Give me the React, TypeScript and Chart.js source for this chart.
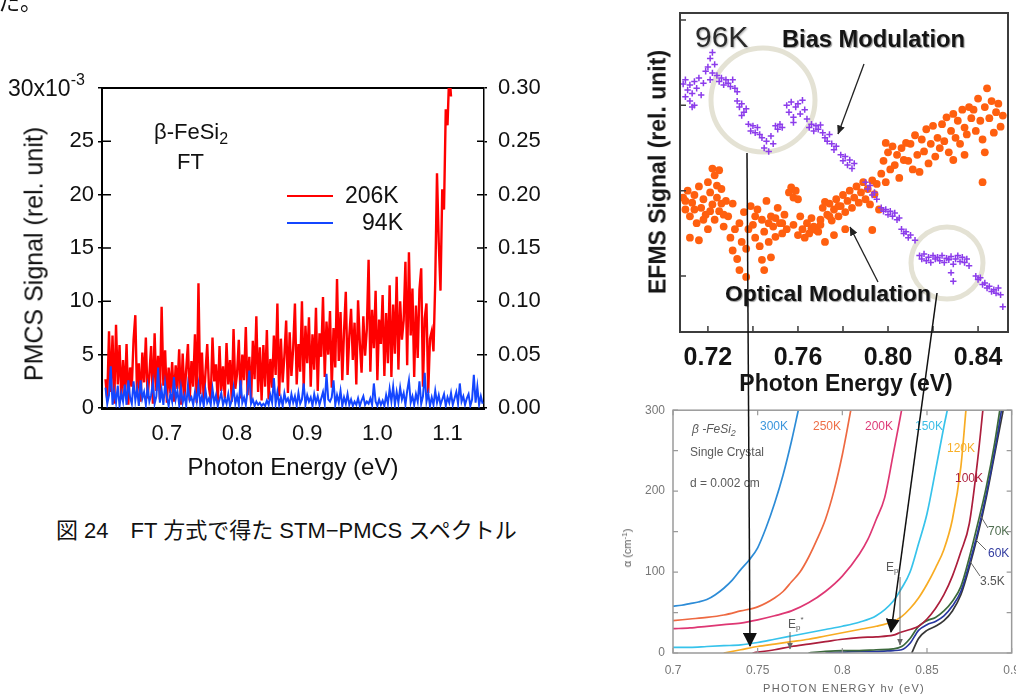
import React, { useEffect, useRef } from 'react';
import { Chart, registerables } from 'chart.js';

Chart.register(...registerables);

const SANS = '"Liberation Sans", Arial, sans-serif';
const CJK = '"Liberation Sans", "Noto Sans CJK JP", sans-serif';
Chart.defaults.font.family = SANS;

// ---------------- Fig. 24 : FT STM-PMCS spectra ----------------
const PMCS_X_TICKS = [0.7, 0.8, 0.9, 1.0, 1.1];
const PMCS_Y_TICKS = [0, 5, 10, 15, 20, 25, 30]; // x10^-3
const PMCS_Y1_TICKS = [0, 0.05, 0.1, 0.15, 0.2, 0.25, 0.3];
const PMCS_E_START = 0.6125; // eV, first sample of the spectra
const PMCS_E_STEP = 0.0025; // eV, sampling step

const pmcs206K = [
  2.7, 0.8, 7.2, 1.5, 6.8, 0.4, 7.8, 2.2, 5.9, 0.9,
  4.5, 1.2, 6.0, 0.3, 3.8, 2.0, 6.4, 8.7, 1.1, 4.2,
  0.6, 5.2, 2.4, 6.6, 0.9, 3.1, 5.8, 0.4, 7.0, 1.6,
  4.9, 0.8, 9.5, 2.1, 5.4, 0.5, 3.8, 1.4, 4.3, 0.6,
  4.0, 1.8, 5.5, 0.3, 5.1, 1.0, 3.6, 6.0, 0.7, 4.4,
  2.0, 6.9, 0.5, 11.7, 1.3, 5.2, 0.6, 3.3, 6.0, 1.9,
  0.8, 6.6, 2.5, 4.1, 0.4, 5.8, 1.6, 3.9, 0.9, 6.1,
  2.2, 4.5, 0.6, 7.4, 1.8, 3.2, 6.4, 0.9, 5.0, 2.6,
  7.6, 1.2, 4.8, 0.5, 6.3, 2.7, 8.6, 1.5, 5.7, 0.7,
  5.9, 2.0, 7.3, 0.8, 4.6, 1.9, 6.8, 3.1, 9.8, 1.1,
  6.5, 2.4, 4.9, 8.2, 1.4, 7.1, 3.0, 5.6, 9.8, 2.2,
  6.0, 3.4, 10.0, 1.8, 7.7, 4.2, 8.5, 2.0, 6.9, 3.6,
  9.4, 1.6, 7.0, 4.8, 10.4, 2.9, 8.1, 5.0, 9.1, 1.9,
  7.5, 3.8, 12.1, 4.4, 9.0, 2.6, 7.2, 10.9, 3.1, 6.7,
  9.3, 4.5, 8.0, 2.2, 10.1, 6.1, 3.3, 8.6, 4.9, 7.4,
  13.9, 3.4, 9.2, 5.6, 11.0, 2.6, 8.3, 6.0, 10.6, 3.0,
  8.9, 4.2, 11.5, 2.9, 9.7, 5.1, 12.3, 3.6, 10.0, 6.4,
  8.2, 13.7, 4.0, 14.6, 6.8, 11.2, 2.9, 9.6, 4.7, 11.1,
  13.1, 2.0, 8.4, 9.8, 1.4, 6.5, 7.2, 5.3, 11.8, 22.0,
  15.5, 11.0, 20.5, 18.6, 28.0, 26.5, 31.5, 29.2,
];

const pmcs94K = [
  1.9, 0.4, 1.2, 3.9, 0.3, 1.6, 0.5, 2.1, 0.2, 1.4,
  0.6, 2.2, 0.3, 2.6, 1.0, 0.4, 2.5, 0.7, 1.8, 0.2,
  2.6, 0.9, 1.5, 0.3, 2.0, 0.6, 1.2, 2.4, 0.4, 1.1,
  3.8, 0.5, 1.7, 0.3, 2.3, 1.0, 0.2, 1.4, 0.6, 2.9,
  0.8, 1.6, 0.3, 1.9, 0.5, 1.2, 0.2, 2.1, 0.7, 1.0,
  0.3, 1.5, 0.6, 2.1, 0.4, 1.1, 0.2, 1.7, 0.5, 0.9,
  0.3, 1.8, 0.5, 1.2, 0.2, 0.8, 1.4, 0.3, 0.9, 0.4,
  1.3, 0.2, 0.7, 1.9, 0.4, 1.1, 0.3, 2.6, 0.5, 1.0,
  0.3, 1.6, 3.5, 0.4, 0.8, 0.2, 0.6, 0.3, 0.5, 0.2,
  0.4, 0.2, 0.7, 0.3, 1.2, 0.5, 2.8, 0.4, 1.5, 0.3,
  1.0, 0.2, 1.4, 0.6, 0.9, 0.3, 1.3, 0.5, 1.1, 0.2,
  1.4, 0.4, 0.8, 2.3, 0.3, 1.2, 0.6, 1.0, 0.2, 1.3,
  0.5, 1.1, 0.3, 0.9, 1.5, 0.4, 3.2, 0.8, 0.6, 1.0,
  2.6, 0.3, 1.2, 0.5, 1.6, 0.2, 1.0, 0.4, 1.3, 0.3,
  0.8, 0.2, 0.6, 0.3, 0.9, 0.2, 0.7, 1.1, 0.3, 0.6,
  0.4, 0.9, 0.3, 2.3, 0.6, 0.2, 0.8, 0.3, 0.7, 0.2,
  1.2, 0.4, 1.8, 0.6, 2.0, 0.3, 1.5, 0.5, 1.9, 0.8,
  1.4, 0.3, 1.6, 2.6, 0.5, 1.1, 0.3, 1.3, 0.6, 2.5,
  0.4, 1.1, 3.3, 0.6, 1.4, 0.2, 1.0, 0.3, 1.6, 0.5,
  1.2, 0.3, 0.8, 1.3, 0.2, 1.0, 0.5, 1.4, 0.3, 0.9,
  1.5, 0.4, 2.3, 0.6, 1.1, 0.3, 0.9, 1.3, 0.2, 0.8,
  3.1, 0.5, 2.0, 0.3, 1.1, 0.4,
];

// ---------------- EFMS (96K) ----------------
const EFMS_X_TICKS = [0.72, 0.74, 0.76, 0.78, 0.8, 0.82, 0.84];
const EFMS_X_LABELS = [0.72, 0.76, 0.8, 0.84];
const EFMS_Y_TICKS = [0, 1, 2, 3];

const efmsOptical: [number, number][] = [
  [0.709, 0.92], [0.71, 0.78], [0.711, 1.0], [0.712, 0.7], [0.713, 0.86], [0.714, 0.95], [0.715, 0.62],
  [0.716, 1.05], [0.717, 0.8], [0.718, 0.9], [0.719, 0.72], [0.72, 1.1], [0.72, 0.55], [0.721, 0.98],
  [0.722, 0.84], [0.723, 1.18], [0.723, 0.66], [0.724, 0.92], [0.725, 0.76], [0.726, 1.02], [0.727, 0.58],
  [0.728, 0.88], [0.712, 0.45], [0.716, 0.42], [0.726, 0.85], [0.722, 1.26], [0.725, 1.24],
  [0.71, 0.88], [0.714, 0.78], [0.718, 0.66], [0.721, 0.76], [0.724, 1.06], [0.727, 0.72],
  [0.729, 0.7], [0.73, 0.45], [0.731, 0.3], [0.731, 0.85], [0.732, 0.55], [0.733, 0.2], [0.734, 0.62],
  [0.734, 0.07], [0.735, 0.4], [0.736, 0.75], [0.737, -0.01], [0.737, 0.32], [0.738, 0.55],
  [0.739, 0.82], [0.74, 0.6], [0.741, 0.45], [0.742, 0.78], [0.743, 0.35], [0.744, 0.66], [0.745, 0.52],
  [0.746, 0.88], [0.747, 0.4], [0.748, 0.7], [0.749, 0.58], [0.75, 0.46], [0.751, 0.8], [0.752, 0.62],
  [0.753, 0.5], [0.754, 0.72], [0.755, 0.55], [0.744, 0.19], [0.745, 0.07], [0.748, 0.22],
  [0.741, 0.7], [0.747, 0.62], [0.75, 0.68], [0.753, 0.62],
  [0.756, 0.98], [0.757, 1.04], [0.758, 0.92], [0.759, 1.0], [0.76, 0.9], [0.758, 0.6], [0.76, 0.48], [0.761, 0.7],
  [0.762, 0.55], [0.763, 0.45], [0.764, 0.62], [0.765, 0.5], [0.766, 0.68], [0.767, 0.58], [0.768, 0.54],
  [0.769, 0.52], [0.77, 0.66], [0.771, 0.8], [0.772, 0.87], [0.773, 0.72], [0.774, 0.85], [0.775, 0.65],
  [0.776, 0.78], [0.777, 0.9], [0.778, 0.7], [0.779, 0.82], [0.78, 0.95], [0.781, 0.75], [0.782, 0.88],
  [0.783, 1.0], [0.784, 0.8], [0.772, 0.4], [0.776, 0.48], [0.781, 0.55],
  [0.766, 0.56], [0.77, 0.6], [0.774, 0.7], [0.778, 0.82],
  [0.785, 0.92], [0.786, 1.05], [0.787, 0.86], [0.788, 0.98], [0.789, 1.1], [0.79, 0.9], [0.791, 1.02],
  [0.792, 0.84], [0.793, 1.12], [0.794, 0.96], [0.795, 1.08], [0.796, 0.78], [0.793, 0.54],
  [0.797, 1.2], [0.798, 1.35], [0.799, 1.1], [0.8, 1.45], [0.801, 1.25], [0.802, 1.52], [0.803, 1.3],
  [0.804, 1.42], [0.805, 1.15], [0.806, 1.5], [0.807, 1.36], [0.808, 1.56], [0.799, 1.56],
  [0.809, 1.35], [0.81, 1.55], [0.811, 1.25], [0.812, 1.65], [0.813, 1.42], [0.814, 1.22], [0.815, 1.6],
  [0.816, 1.46], [0.817, 1.72], [0.818, 1.32], [0.819, 1.55], [0.82, 1.76], [0.821, 1.4], [0.822, 1.62],
  [0.823, 1.5], [0.824, 1.78], [0.825, 1.58], [0.826, 1.86], [0.827, 1.45], [0.828, 1.7], [0.829, 1.9],
  [0.83, 1.62], [0.831, 1.82], [0.832, 1.55], [0.833, 1.95], [0.834, 1.74], [0.835, 1.66], [0.836, 1.98],
  [0.837, 1.85], [0.829, 1.36], [0.834, 1.42],
  [0.838, 1.95], [0.839, 1.7], [0.84, 2.08], [0.841, 1.82], [0.842, 1.6], [0.843, 1.98], [0.844, 2.2],
  [0.845, 1.85], [0.846, 2.05], [0.847, 1.68], [0.848, 1.92], [0.849, 2.02], [0.85, 1.75], [0.851, 1.88],
  [0.843, 1.45], [0.842, 1.1],
];

const efmsBias: [number, number][] = [
  [0.709, 2.25], [0.71, 2.1], [0.71, 2.3], [0.711, 2.18], [0.712, 2.05], [0.712, 2.24], [0.713, 2.14],
  [0.714, 2.0], [0.714, 2.28], [0.715, 2.2], [0.716, 2.32], [0.717, 2.12], [0.718, 2.26], [0.719, 2.4], [0.713, 1.98],
  [0.72, 2.45], [0.721, 2.55], [0.722, 2.38], [0.722, 2.62], [0.723, 2.48], [0.724, 2.35], [0.721, 2.3],
  [0.725, 2.28], [0.726, 2.32], [0.727, 2.24], [0.728, 2.3], [0.729, 2.26], [0.73, 2.22], [0.731, 2.3],
  [0.732, 2.2], [0.733, 2.16],
  [0.733, 2.05], [0.734, 1.98], [0.735, 2.02], [0.736, 1.92], [0.737, 1.96], [0.735, 1.88],
  [0.738, 1.78], [0.739, 1.7], [0.74, 1.76], [0.741, 1.68], [0.742, 1.74], [0.743, 1.66],
  [0.744, 1.62], [0.745, 1.5], [0.746, 1.58], [0.747, 1.46], [0.748, 1.64], [0.749, 1.55],
  [0.75, 1.76], [0.751, 1.72], [0.752, 1.78], [0.753, 1.74],
  [0.755, 2.0], [0.756, 1.92], [0.757, 2.04], [0.758, 1.86], [0.759, 1.98], [0.76, 2.02], [0.761, 1.9],
  [0.762, 2.06], [0.763, 1.95], [0.764, 1.84], [0.758, 1.8],
  [0.765, 1.74], [0.766, 1.78], [0.767, 1.7], [0.768, 1.76], [0.769, 1.72], [0.77, 1.77], [0.771, 1.68],
  [0.772, 1.62], [0.773, 1.58], [0.774, 1.66],
  [0.775, 1.55], [0.776, 1.48], [0.777, 1.52],
  [0.779, 1.42], [0.78, 1.35], [0.781, 1.4], [0.782, 1.3], [0.783, 1.36], [0.784, 1.26], [0.785, 1.32],
  [0.79, 1.1], [0.791, 1.02], [0.792, 1.06], [0.793, 0.95], [0.794, 0.98], [0.795, 0.9],
  [0.797, 0.8], [0.798, 0.76], [0.799, 0.78], [0.8, 0.72], [0.801, 0.76], [0.802, 0.7], [0.803, 0.74],
  [0.804, 0.66], [0.805, 0.68],
  [0.806, 0.55], [0.807, 0.5], [0.808, 0.52], [0.809, 0.45], [0.81, 0.48], [0.812, 0.42],
  [0.814, 0.24], [0.815, 0.2], [0.816, 0.26], [0.817, 0.18], [0.818, 0.22], [0.819, 0.16], [0.82, 0.24],
  [0.821, 0.2], [0.822, 0.22], [0.823, 0.18], [0.824, 0.24], [0.825, 0.16], [0.826, 0.21], [0.827, 0.19],
  [0.828, 0.23], [0.829, 0.14], [0.83, 0.2], [0.831, 0.24], [0.832, 0.17], [0.833, 0.22], [0.834, 0.16],
  [0.835, 0.2], [0.836, 0.12], [0.828, 0.04], [0.829, -0.06],
  [0.839, 0.0], [0.84, -0.04], [0.841, -0.02], [0.842, -0.1], [0.843, -0.08], [0.844, -0.14], [0.845, -0.12],
  [0.846, -0.18], [0.847, -0.16], [0.848, -0.2], [0.849, -0.14], [0.85, -0.22], [0.851, -0.36],
];

// ---------------- Absorption coefficient (single crystal) ----------------
const ABS_X_TICKS = [0.7, 0.75, 0.8, 0.85, 0.9];
const ABS_Y_TICKS = [0, 100, 200, 300];
const ABS_Y_MINOR = [0, 50, 100, 150, 200, 250, 300];

const abs300K: [number, number][] = [[0.7, 58], [0.705, 59], [0.71, 61], [0.715, 63], [0.72, 66], [0.725, 72], [0.73, 80], [0.735, 90], [0.74, 103], [0.745, 115], [0.75, 130], [0.755, 155], [0.76, 185], [0.765, 220], [0.77, 262], [0.774, 300]];
const abs250K: [number, number][] = [[0.7, 40], [0.71, 42], [0.72, 44], [0.73, 47], [0.74, 52], [0.75, 57], [0.76, 68], [0.765, 76], [0.77, 88], [0.775, 100], [0.78, 118], [0.785, 140], [0.79, 165], [0.795, 200], [0.8, 245], [0.805, 300]];
const abs200K: [number, number][] = [[0.7, 30], [0.71, 31], [0.72, 33], [0.73, 35], [0.74, 37], [0.75, 41], [0.76, 46], [0.77, 52], [0.78, 62], [0.79, 76], [0.8, 95], [0.81, 122], [0.815, 140], [0.82, 165], [0.825, 192], [0.83, 245], [0.835, 300]];
const abs150K: [number, number][] = [[0.7, 7], [0.71, 7], [0.72, 8], [0.73, 9], [0.74, 10], [0.75, 13], [0.76, 17], [0.77, 21], [0.78, 25], [0.79, 29], [0.8, 33], [0.81, 38], [0.82, 46], [0.83, 64], [0.835, 80], [0.84, 100], [0.845, 135], [0.85, 172], [0.855, 225], [0.86, 280], [0.862, 300]];
const abs120K: [number, number][] = [[0.73, 0], [0.74, 4], [0.75, 8], [0.76, 11], [0.77, 14], [0.78, 17], [0.79, 21], [0.8, 25], [0.81, 29], [0.82, 33], [0.83, 39], [0.835, 45], [0.84, 55], [0.845, 68], [0.85, 85], [0.855, 105], [0.86, 128], [0.865, 165], [0.87, 230], [0.873, 300]];
const abs100K: [number, number][] = [[0.747, 0], [0.76, 4], [0.77, 8], [0.78, 11], [0.79, 14], [0.8, 17], [0.81, 19], [0.82, 20], [0.83, 22], [0.835, 26], [0.84, 29], [0.845, 33], [0.85, 42], [0.855, 55], [0.86, 72], [0.865, 95], [0.87, 125], [0.875, 160], [0.88, 240], [0.883, 300]];
const abs70K: [number, number][] = [[0.78, 0], [0.79, 2], [0.8, 3], [0.81, 3], [0.82, 4], [0.83, 5], [0.835, 8], [0.84, 18], [0.845, 33], [0.85, 40], [0.855, 44], [0.86, 52], [0.865, 64], [0.87, 82], [0.875, 118], [0.88, 160], [0.885, 205], [0.89, 260], [0.893, 300]];
const abs60K: [number, number][] = [[0.79, 0], [0.8, 1], [0.81, 2], [0.82, 2], [0.83, 3], [0.835, 4], [0.84, 12], [0.845, 28], [0.85, 35], [0.855, 39], [0.86, 46], [0.865, 58], [0.87, 76], [0.875, 110], [0.88, 150], [0.885, 196], [0.89, 250], [0.894, 300]];
const abs3_5K: [number, number][] = [[0.841, 0], [0.845, 18], [0.85, 28], [0.855, 33], [0.86, 40], [0.865, 52], [0.87, 72], [0.875, 106], [0.88, 146], [0.885, 192], [0.89, 246], [0.895, 300]];

const ABS_SERIES: { label: string; data: [number, number][]; color: string }[] = [
  { label: '300K', data: abs300K, color: 'rgb(45,140,215)' },
  { label: '250K', data: abs250K, color: 'rgb(238,105,65)' },
  { label: '200K', data: abs200K, color: 'rgb(222,55,115)' },
  { label: '150K', data: abs150K, color: 'rgb(55,195,235)' },
  { label: '120K', data: abs120K, color: 'rgb(248,172,35)' },
  { label: '100K', data: abs100K, color: 'rgb(172,30,60)' },
  { label: '70K', data: abs70K, color: 'rgb(60,105,60)' },
  { label: '60K', data: abs60K, color: 'rgb(40,55,160)' },
  { label: '3.5K', data: abs3_5K, color: 'rgb(55,55,55)' },
];

// ---------------- plugins ----------------
const pmcsFrame = {
  id: 'pmcsFrame',
  beforeDatasetsDraw(chart: any) {
    const { ctx, chartArea: a, scales } = chart;
    ctx.save();
    ctx.strokeStyle = '#000';
    ctx.lineWidth = 2;
    ctx.beginPath();
    ctx.moveTo(a.left, a.top);
    ctx.lineTo(a.right, a.top);
    ctx.stroke();
    ctx.lineWidth = 1.5;
    ctx.beginPath();
    PMCS_Y_TICKS.forEach((v) => {
      const py = scales.y.getPixelForValue(v);
      ctx.moveTo(a.left, py);
      ctx.lineTo(a.left + 9, py);
    });
    PMCS_Y1_TICKS.forEach((v) => {
      const py = scales.y1.getPixelForValue(v);
      ctx.moveTo(a.right - 7, py);
      ctx.lineTo(a.right, py);
    });
    ctx.stroke();
    ctx.restore();
  },
};

const efmsFrame = {
  id: 'efmsFrame',
  afterDatasetsDraw(chart: any) {
    const { ctx, chartArea: a, scales } = chart;
    ctx.save();
    ctx.strokeStyle = '#3c3c3c';
    ctx.lineWidth = 2;
    ctx.strokeRect(a.left, a.top, a.right - a.left, a.bottom - a.top);
    ctx.lineWidth = 1.5;
    ctx.beginPath();
    EFMS_X_TICKS.forEach((v) => {
      const px = scales.x.getPixelForValue(v);
      ctx.moveTo(px, a.bottom);
      ctx.lineTo(px, a.bottom - 6);
    });
    EFMS_Y_TICKS.forEach((v) => {
      const py = scales.y.getPixelForValue(v);
      ctx.moveTo(a.left, py);
      ctx.lineTo(a.left + 6, py);
    });
    ctx.stroke();
    ctx.restore();
  },
};

const absFrame = {
  id: 'absFrame',
  afterDatasetsDraw(chart: any) {
    const { ctx, chartArea: a, scales } = chart;
    ctx.save();
    ctx.strokeStyle = '#9a9a9a';
    ctx.lineWidth = 1.5;
    ctx.strokeRect(a.left, a.top, a.right - a.left, a.bottom - a.top);
    ctx.lineWidth = 1.2;
    ctx.beginPath();
    ABS_X_TICKS.forEach((v) => {
      const px = scales.x.getPixelForValue(v);
      ctx.moveTo(px, a.bottom);
      ctx.lineTo(px, a.bottom - 5);
      ctx.moveTo(px, a.top);
      ctx.lineTo(px, a.top + 5);
    });
    ABS_Y_MINOR.forEach((v) => {
      const py = scales.y.getPixelForValue(v);
      ctx.moveTo(a.left, py);
      ctx.lineTo(a.left + 5, py);
      ctx.moveTo(a.right, py);
      ctx.lineTo(a.right - 5, py);
    });
    ctx.stroke();
    ctx.restore();
  },
};

// ---------------- configs ----------------
function pmcsConfig(): any {
  const pts = (arr: number[]) => arr.map((v, i) => ({ x: PMCS_E_START + i * PMCS_E_STEP, y: v }));
  const tickFont = { family: SANS, size: 22 };
  return {
    type: 'line',
    data: {
      datasets: [
        { label: '94K', data: pts(pmcs94K), borderColor: '#1446ff', borderWidth: 2.0, pointRadius: 0, order: 0, yAxisID: 'y' },
        { label: '206K', data: pts(pmcs206K), borderColor: '#ff0000', borderWidth: 2.4, pointRadius: 0, order: 1, yAxisID: 'y' },
      ],
    },
    options: {
      responsive: false,
      animation: false,
      devicePixelRatio: 1,
      events: [],
      layout: { padding: { top: 88, left: 0, right: 0, bottom: 0 } },
      plugins: { legend: { display: false }, tooltip: { enabled: false } },
      scales: {
        x: {
          type: 'linear', min: 0.6075, max: 1.152, z: 1,
          afterBuildTicks: (s: any) => { s.ticks = PMCS_X_TICKS.map((value) => ({ value })); },
          afterFit: (s: any) => { s.height = 92; },
          ticks: { callback: (v: any) => Number(v).toFixed(1), font: tickFont, color: '#111', padding: 13, maxRotation: 0, autoSkip: false },
          grid: { display: false, drawTicks: false },
          border: { display: true, color: '#000', width: 3 },
        },
        y: {
          position: 'left', min: 0, max: 30, z: 1,
          afterBuildTicks: (s: any) => { s.ticks = PMCS_Y_TICKS.map((value) => ({ value })); },
          afterFit: (s: any) => { s.width = 102; },
          ticks: { callback: (v: any) => (v === 30 ? '' : String(v)), font: tickFont, color: '#111', padding: 4 },
          grid: { drawOnChartArea: false, drawTicks: true, tickLength: 4, color: '#000', lineWidth: 1.5 },
          border: { display: true, color: '#000', width: 2 },
        },
        y1: {
          position: 'right', min: 0, max: 0.3, z: 1,
          afterBuildTicks: (s: any) => { s.ticks = PMCS_Y1_TICKS.map((value) => ({ value })); },
          afterFit: (s: any) => { s.width = 76; },
          ticks: { callback: (v: any) => Number(v).toFixed(2), font: tickFont, color: '#111', padding: 11 },
          grid: { drawOnChartArea: false, drawTicks: true, tickLength: 3, color: '#000', lineWidth: 1.5 },
          border: { display: true, color: '#000', width: 1.5 },
        },
      },
    },
    plugins: [pmcsFrame],
  };
}

function efmsConfig(): any {
  return {
    type: 'scatter',
    data: {
      datasets: [
        {
          label: 'Bias Modulation', data: efmsBias.map(([x, y]) => ({ x, y })),
          pointStyle: 'cross', pointRadius: 3.2, borderColor: 'rgb(140,60,235)', backgroundColor: 'rgb(140,60,235)', borderWidth: 1.5, order: 0,
        },
        {
          label: 'Optical Modulation', data: efmsOptical.map(([x, y]) => ({ x, y })),
          pointStyle: 'circle', pointRadius: 3.9, borderWidth: 0, backgroundColor: 'rgb(255,95,15)', borderColor: 'rgb(255,95,15)', order: 1,
        },
      ],
    },
    options: {
      responsive: false,
      animation: false,
      devicePixelRatio: 1,
      events: [],
      layout: { padding: { top: 13, left: 0, right: 8, bottom: 0 } },
      plugins: { legend: { display: false }, tooltip: { enabled: false } },
      scales: {
        x: {
          type: 'linear', min: 0.7076, max: 0.8533,
          afterBuildTicks: (s: any) => { s.ticks = EFMS_X_TICKS.map((value) => ({ value })); },
          afterFit: (s: any) => { s.height = 68; },
          ticks: {
            callback: (v: any) => (EFMS_X_LABELS.some((l) => Math.abs(l - v) < 1e-6) ? Number(v).toFixed(2) : ''),
            font: { family: SANS, size: 25, weight: 'bold' }, color: '#141414', padding: 11, maxRotation: 0, autoSkip: false,
          },
          grid: { display: false, drawTicks: false },
          border: { display: false },
        },
        y: {
          type: 'linear', min: -0.655, max: 3.082,
          afterBuildTicks: (s: any) => { s.ticks = EFMS_Y_TICKS.map((value) => ({ value })); },
          afterFit: (s: any) => { s.width = 80; },
          ticks: { display: false },
          grid: { display: false, drawTicks: false },
          border: { display: false },
        },
      },
    },
    plugins: [efmsFrame],
  };
}

function absConfig(): any {
  const f = { family: SANS, size: 12 };
  return {
    type: 'line',
    data: {
      datasets: ABS_SERIES.map((s) => ({
        label: s.label, data: s.data.map(([x, y]) => ({ x, y })), borderColor: s.color,
        borderWidth: 1.7, pointRadius: 0, cubicInterpolationMode: 'monotone',
      })),
    },
    options: {
      responsive: false,
      animation: false,
      devicePixelRatio: 1,
      events: [],
      layout: { padding: { top: 12, left: 0, right: 17, bottom: 0 } },
      plugins: { legend: { display: false }, tooltip: { enabled: false } },
      scales: {
        x: {
          type: 'linear', min: 0.7, max: 0.9,
          afterBuildTicks: (s: any) => { s.ticks = ABS_X_TICKS.map((value) => ({ value })); },
          afterFit: (s: any) => { s.height = 42; },
          ticks: { callback: (v: any) => String(Number(Number(v).toFixed(2))), font: f, color: '#777', padding: 10, maxRotation: 0, autoSkip: false },
          grid: { display: false, drawTicks: false },
          border: { display: false },
        },
        y: {
          type: 'linear', min: 0, max: 300,
          afterBuildTicks: (s: any) => { s.ticks = ABS_Y_TICKS.map((value) => ({ value })); },
          afterFit: (s: any) => { s.width = 73; },
          ticks: { font: f, color: '#777', padding: 8 },
          grid: { display: false, drawTicks: false },
          border: { display: false },
        },
      },
    },
    plugins: [absFrame],
  };
}

// ---------------- components ----------------
function ChartCanvas({ left, top, width, height, make, filter }: any) {
  const ref = useRef<HTMLCanvasElement>(null);
  useEffect(() => {
    const chart = new Chart(ref.current as HTMLCanvasElement, make());
    return () => chart.destroy();
  }, []);
  return (
    <canvas
      ref={ref}
      width={width}
      height={height}
      style={{ position: 'absolute', left, top, width, height, zIndex: 2, filter }}
    />
  );
}

function Txt({ x, y, size, children, align = 'left', weight = 400, color = '#111', family = SANS, scaleX, spacing, shadow, style }: any) {
  const shift = align === 'center' ? '-50%' : align === 'right' ? '-100%' : '0';
  const origin = align === 'center' ? 'center' : align === 'right' ? 'right' : 'left';
  return (
    <div
      style={{
        position: 'absolute', left: x, top: y - 0.8465 * size, fontFamily: family, fontSize: size,
        lineHeight: `${size}px`, fontWeight: weight, color, whiteSpace: 'nowrap',
        transform: `translateX(${shift})${scaleX ? ` scaleX(${scaleX})` : ''}`, transformOrigin: `${origin} center`,
        letterSpacing: spacing, textShadow: shadow, zIndex: 3, ...style,
      }}
    >
      {children}
    </div>
  );
}

function VTxt({ cx, cy, size, children, weight = 400, color = '#111', family = SANS, spacing, style }: any) {
  return (
    <div
      style={{
        position: 'absolute', left: cx, top: cy, transform: 'translate(-50%, -50%) rotate(-90deg)',
        fontFamily: family, fontSize: size, lineHeight: `${size}px`, fontWeight: weight, color,
        whiteSpace: 'nowrap', letterSpacing: spacing, zIndex: 3, ...style,
      }}
    >
      {children}
    </div>
  );
}

export default function App() {
  const absText = '#5a5a5a';
  return (
    <div style={{ position: 'fixed', left: 0, top: 0, width: 1016, height: 695, overflow: 'hidden', background: '#fff' }}>
      {/* fragment of preceding body text */}
      <Txt x={-2} y={11} size={22} family={CJK}>た。</Txt>

      {/* ---------- Left: Fig. 24 ---------- */}
      <ChartCanvas left={0} top={0} width={560} height={500} make={pmcsConfig} />
      <Txt x={8} y={96} size={23}>
        30x10<span style={{ fontSize: 16, position: 'relative', top: -11 }}>-3</span>
      </Txt>
      <VTxt cx={34} cy={254} size={25}>PMCS Signal (rel. unit)</VTxt>
      <Txt x={293} y={475} size={24} align="center">Photon Energy (eV)</Txt>
      <Txt x={154} y={140} size={22}>
        β-FeSi<span style={{ fontSize: 16, position: 'relative', top: 5 }}>2</span>
      </Txt>
      <Txt x={177} y={170} size={22}>FT</Txt>
      <div style={{ position: 'absolute', left: 287, top: 195, width: 46, height: 1.5, background: '#ff0000', zIndex: 3 }} />
      <div style={{ position: 'absolute', left: 287, top: 222, width: 46, height: 1.5, background: '#1446ff', zIndex: 3 }} />
      <Txt x={345} y={203} size={23}>206K</Txt>
      <Txt x={403} y={230} size={23} align="right">94K</Txt>
      <Txt x={56} y={538.5} size={22} family={CJK}>図 24　FT 方式で得た STM−PMCS スペクトル</Txt>

      {/* ---------- decorations under the EFMS plot ---------- */}
      <svg width={1016} height={695} style={{ position: 'absolute', left: 0, top: 0, zIndex: 1 }}>
        <circle cx={763} cy={100} r={52} fill="none" stroke="rgb(228,226,212)" strokeWidth={5} />
        <circle cx={947} cy={263} r={36} fill="none" stroke="rgb(228,226,212)" strokeWidth={5} />
      </svg>

      {/* ---------- Right top: EFMS ---------- */}
      <ChartCanvas left={600} top={0} width={416} height={400} make={efmsConfig} />
      <Txt x={695} y={47} size={30} color="#2a2a2a" shadow="1px 1px 2px #aaa">96K</Txt>
      <Txt x={782} y={47} size={23} weight={700} scaleX={1.03} color="#151515" shadow="1px 1px 1px #999">Bias Modulation</Txt>
      <Txt x={725} y={302} size={22} weight={700} scaleX={1.04} color="#151515" shadow="1px 1px 1px #999">Optical Modulation</Txt>
      <VTxt cx={658} cy={172} size={23} weight={700} color="#151515">EFMS Signal (rel. unit)</VTxt>
      <Txt x={846} y={391} size={23} weight={700} align="center" color="#151515">Photon Energy (eV)</Txt>

      {/* ---------- Right bottom: absorption spectra ---------- */}
      <ChartCanvas left={600} top={395} width={430} height={300} make={absConfig} filter="blur(0.4px)" />
      <Txt x={692} y={433} size={12} color={absText} style={{ fontStyle: 'italic' }}>
        β -FeSi<span style={{ fontSize: 9, position: 'relative', top: 3 }}>2</span>
      </Txt>
      <Txt x={690} y={456} size={12} color={absText}>Single Crystal</Txt>
      <Txt x={690} y={487} size={12} color={absText}>d = 0.002 cm</Txt>
      <Txt x={760} y={430} size={12} color="rgb(60,150,220)">300K</Txt>
      <Txt x={813} y={430} size={12} color="rgb(238,110,70)">250K</Txt>
      <Txt x={865} y={430} size={12} color="rgb(222,60,120)">200K</Txt>
      <Txt x={915} y={430} size={12} color="rgb(60,190,230)">150K</Txt>
      <Txt x={947} y={452} size={12} color="rgb(248,175,40)">120K</Txt>
      <Txt x={955} y={482} size={12} color="rgb(175,35,65)">100K</Txt>
      <Txt x={988} y={535} size={12} color="rgb(80,110,80)">70K</Txt>
      <Txt x={988} y={557} size={12} color="rgb(50,60,160)">60K</Txt>
      <Txt x={980} y={585} size={12} color="#555">3.5K</Txt>
      <Txt x={886} y={571} size={12} color={absText}>
        E<span style={{ fontSize: 8, position: 'relative', top: 2 }}>p</span>
      </Txt>
      <Txt x={788} y={628} size={12} color={absText}>
        E<span style={{ fontSize: 8, position: 'relative', top: 2 }}>p</span>
        <span style={{ fontSize: 8, position: 'relative', top: -6 }}>*</span>
      </Txt>
      <VTxt cx={628} cy={548} size={11} color={absText}>
        α (cm<span style={{ fontSize: 8, position: 'relative', top: -4 }}>-1</span>)
      </VTxt>
      <Txt x={844} y={692} size={11} align="center" color="#666" spacing={1.3}>PHOTON ENERGY hν (eV)</Txt>

      {/* ---------- arrows drawn over everything ---------- */}
      <svg width={1016} height={695} style={{ position: 'absolute', left: 0, top: 0, zIndex: 5 }}>
        <defs>
          <marker id="ahBig" markerWidth={14} markerHeight={14} refX={13} refY={7} orient="auto" markerUnits="userSpaceOnUse">
            <path d="M0,0 L14,7 L0,14 z" fill="#111" />
          </marker>
          <marker id="ahSmall" markerWidth={9} markerHeight={8} refX={8.5} refY={4} orient="auto" markerUnits="userSpaceOnUse">
            <path d="M0,0 L9,4 L0,8 z" fill="#222" />
          </marker>
          <marker id="ahGray" markerWidth={7} markerHeight={6} refX={6.5} refY={3} orient="auto" markerUnits="userSpaceOnUse">
            <path d="M0,0 L7,3 L0,6 z" fill="#666" />
          </marker>
        </defs>
        <line x1={747} y1={153} x2={750} y2={646} stroke="#111" strokeWidth={1.5} markerEnd="url(#ahBig)" />
        <line x1={937} y1={293} x2={891} y2={632} stroke="#111" strokeWidth={1.5} markerEnd="url(#ahBig)" />
        <line x1={864} y1={64} x2={838} y2={134} stroke="#222" strokeWidth={1.3} markerEnd="url(#ahSmall)" />
        <line x1={878} y1={282} x2={850} y2={227} stroke="#222" strokeWidth={1.3} markerEnd="url(#ahSmall)" />
        <line x1={900} y1={577} x2={900} y2={645} stroke="#666" strokeWidth={1} markerEnd="url(#ahGray)" />
        <line x1={790} y1={632} x2={790} y2={649} stroke="#666" strokeWidth={1} markerEnd="url(#ahGray)" />
        <line x1={980} y1={515} x2={988} y2={528} stroke="#666" strokeWidth={1} />
        <line x1={974} y1={538} x2={986} y2={550} stroke="#666" strokeWidth={1} />
        <line x1={969} y1={560} x2={980} y2={576} stroke="#666" strokeWidth={1} />
      </svg>
    </div>
  );
}
